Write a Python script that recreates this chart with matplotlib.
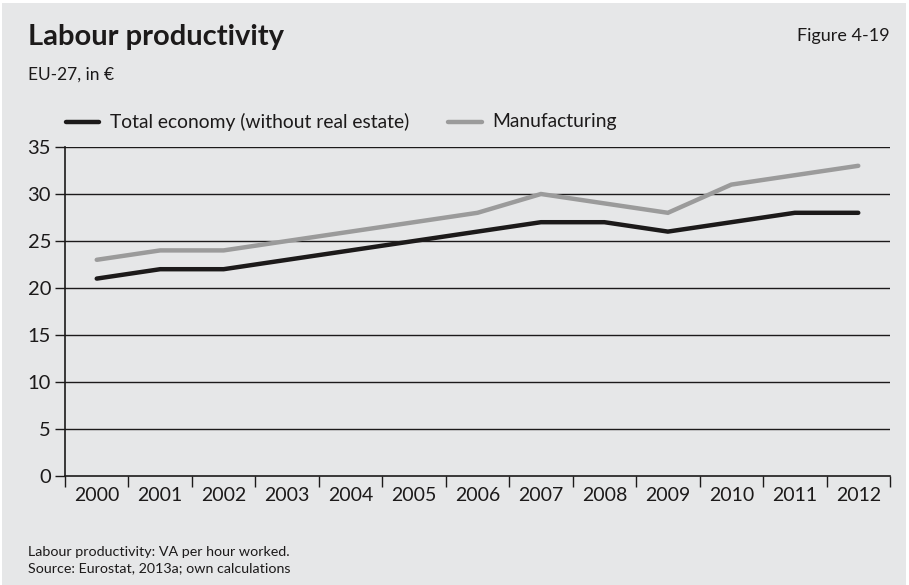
import matplotlib
matplotlib.use("Agg")
import matplotlib.pyplot as plt
from matplotlib.patches import Rectangle
from matplotlib.lines import Line2D

years = ["2000", "2001", "2002", "2003", "2004", "2005", "2006",
         "2007", "2008", "2009", "2010", "2011", "2012"]
total_economy = [21, 22, 22, 23, 24, 25, 26, 27, 27, 26, 27, 28, 28]
manufacturing = [23, 24, 24, 25, 26, 27, 28, 30, 29, 28, 31, 32, 33]
y_ticks = [0, 5, 10, 15, 20, 25, 30, 35]

BG = "#e6e7e8"
DARK = "#1c1a1a"
GREY = "#9b9b9b"
FONT = "Lato"

plt.rcParams["font.family"] = [FONT, "DejaVu Sans"]

W, H = 909, 585
fig = plt.figure(figsize=(W / 100, H / 100), dpi=100)
fig.patch.set_facecolor("white")
fig.patches.append(Rectangle((2 / W, 0), 1 - 5 / W, 1 - 3 / H,
                             transform=fig.transFigure, facecolor=BG,
                             edgecolor="none", zorder=-10))

# plot area in pixels: x 65..890, y 147..476
left, right, top, bottom = 65, 890, 147, 476
ax = fig.add_axes([left / W, 1 - bottom / H, (right - left) / W, (bottom - top) / H])
ax.set_facecolor("none")

x = list(range(len(years)))
ax.plot(x, manufacturing, color=GREY, lw=3.2, solid_capstyle="round",
        solid_joinstyle="miter", zorder=3)
ax.plot(x, total_economy, color=DARK, lw=3.2, solid_capstyle="round",
        solid_joinstyle="miter", zorder=4)

ax.set_xlim(-0.5, len(years) - 0.5)
ax.set_ylim(0, 35)

for v in y_ticks[1:]:
    ax.axhline(v, color=DARK, lw=1.0, zorder=1)

for s in ["top", "right"]:
    ax.spines[s].set_visible(False)
ax.spines["left"].set_color(DARK)
ax.spines["left"].set_linewidth(1.2)
ax.spines["bottom"].set_color(DARK)
ax.spines["bottom"].set_linewidth(1.2)

ax.set_yticks(y_ticks)
ax.set_yticklabels([str(v) for v in y_ticks])
ax.tick_params(axis="y", length=7, width=1.0, color=DARK, labelsize=14.5,
               labelcolor=DARK, pad=3)

# category axis: ticks on boundaries, labels centered in each band
ax.set_xticks([i - 0.5 for i in range(len(years) + 1)])
ax.set_xticklabels([])
ax.set_xticks(x, minor=True)
ax.set_xticklabels(years, minor=True)
ax.tick_params(axis="x", which="major", length=8, width=1.0, color=DARK,
               direction="out")
ax.tick_params(axis="x", which="minor", length=0, labelsize=14,
               labelcolor=DARK, pad=8)

# titles and notes
fig.text(28 / W, 1 - 37 / H, "Labour productivity", fontsize=21,
         fontweight="bold", color=DARK, va="center", ha="left")
fig.text(28 / W, 1 - 75 / H, "EU-27, in €", fontsize=12.5, color=DARK,
         va="center", ha="left")
fig.text(890 / W, 1 - 36 / H, "Figure 4-19", fontsize=13, color=DARK,
         va="center", ha="right")
fig.text(28 / W, 1 - 552 / H, "Labour productivity: VA per hour worked.",
         fontsize=10.3, color=DARK, va="center", ha="left")
fig.text(28 / W, 1 - 568 / H, "Source: Eurostat, 2013a; own calculations",
         fontsize=10.3, color=DARK, va="center", ha="left")

# legend drawn in figure coordinates
ly = 1 - 122 / H
fig.add_artist(Line2D([66 / W, 99 / W], [ly, ly], color=DARK, lw=3.2,
                      solid_capstyle="round"))
fig.text(110 / W, ly, "Total economy (without real estate)", fontsize=13.9,
         color=DARK, va="center", ha="left")
fig.add_artist(Line2D([448 / W, 482 / W], [ly, ly], color=GREY, lw=3.2,
                      solid_capstyle="round"))
fig.text(492 / W, ly, "Manufacturing", fontsize=13.9, color=DARK,
         va="center", ha="left")

fig.savefig("out.png", dpi=100, facecolor=fig.get_facecolor())
